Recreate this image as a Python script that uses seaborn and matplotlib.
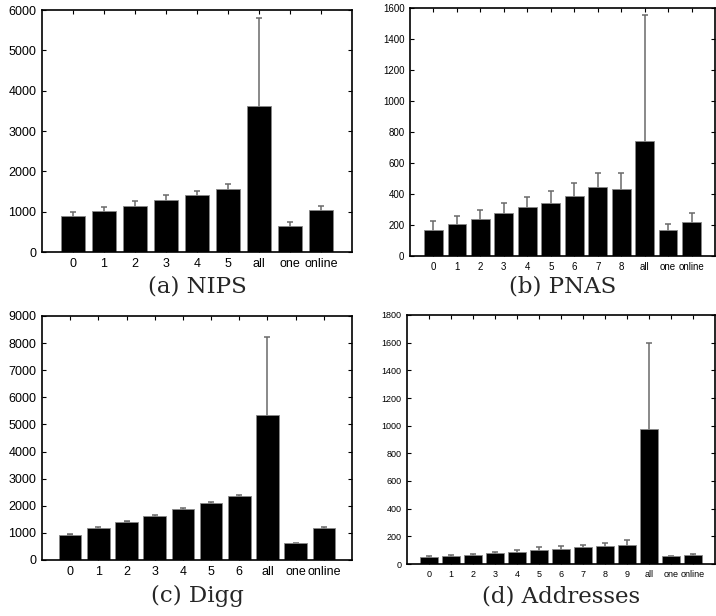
import matplotlib
matplotlib.use("Agg")
import matplotlib.pyplot as plt
import seaborn as sns
import numpy as np
import pandas as pd

sns.set_theme(style="ticks")
plt.rcParams["font.family"] = ["Liberation Sans", "DejaVu Sans"]

# (a) NIPS
nips_cats = ["0", "1", "2", "3", "4", "5", "all", "one", "online"]
nips_mean = [900, 1020, 1150, 1300, 1420, 1570, 3620, 650, 1030]
nips_top = [1000, 1120, 1260, 1410, 1520, 1680, 5790, 740, 1140]

# (b) PNAS
pnas_cats = ["0", "1", "2", "3", "4", "5", "6", "7", "8", "all", "one", "online"]
pnas_mean = [170, 205, 240, 278, 315, 345, 385, 443, 432, 745, 170, 220]
pnas_top = [225, 260, 295, 345, 380, 420, 472, 535, 535, 1552, 205, 278]

# (c) Digg
digg_cats = ["0", "1", "2", "3", "4", "5", "6", "all", "one", "online"]
digg_mean = [940, 1170, 1420, 1630, 1870, 2110, 2350, 5350, 610, 1170]
digg_top = [960, 1200, 1445, 1670, 1900, 2150, 2385, 8230, 630, 1200]

# (d) Addresses
addr_cats = ["0", "1", "2", "3", "4", "5", "6", "7", "8", "9", "all", "one", "online"]
addr_mean = [50, 58, 65, 78, 88, 100, 110, 120, 132, 140, 975, 55, 65]
addr_top = [58, 67, 75, 90, 103, 120, 130, 140, 155, 170, 1600, 60, 75]

panels = [
    (nips_cats, nips_mean, nips_top, 6000, 1000, "(a) NIPS", [42, 10, 352, 252], 9, 286),
    (pnas_cats, pnas_mean, pnas_top, 1600, 200, "(b) PNAS", [410, 8, 715, 256], 7, 287),
    (digg_cats, digg_mean, digg_top, 9000, 1000, "(c) Digg", [42, 316, 352, 560], 9, 596),
    (addr_cats, addr_mean, addr_top, 1800, 200, "(d) Addresses", [407, 315, 715, 564], 6.5, 597),
]

W, H = 716, 616
fig = plt.figure(figsize=(W / 100, H / 100), dpi=100)

for cats, mean, top, ymax, ystep, title, box, fs, cap_y in panels:
    l, t, r, b = box
    ax = fig.add_axes([l / W, 1 - b / H, (r - l) / W, (b - t) / H])
    df = pd.DataFrame({"cat": cats, "val": mean})
    sns.barplot(data=df, x="cat", y="val", color="black", saturation=1,
                edgecolor="#888888", linewidth=0.6, width=0.8, ax=ax, zorder=3)
    x = np.arange(len(cats))
    # symmetric bars like matlab, lower half is hidden behind the bar
    err = np.array(top) - np.array(mean)
    ax.errorbar(x, mean, yerr=err, fmt="none",
                ecolor="#6a6a6a", elinewidth=1.1, capsize=2.5, capthick=1.1, zorder=2)
    ax.set_xlim(-1, len(cats))
    ax.set_ylim(0, ymax)
    ax.set_yticks(np.arange(0, ymax + 1, ystep))
    ax.set_xlabel("")
    ax.set_ylabel("")
    ax.tick_params(direction="in", top=True, right=True, length=3, width=0.8,
                   labelsize=fs, pad=4, colors="black")
    for s in ax.spines.values():
        s.set_linewidth(1.2)
        s.set_color("black")
        s.set_zorder(5)
    ax.set_facecolor("white")
    fig.text(((l + r) / 2) / W, 1 - cap_y / H, title, ha="center", va="center",
             fontsize=16.5, family=["DejaVu Serif", "Liberation Serif"])

fig.savefig("out.png", dpi=100, facecolor="white")
